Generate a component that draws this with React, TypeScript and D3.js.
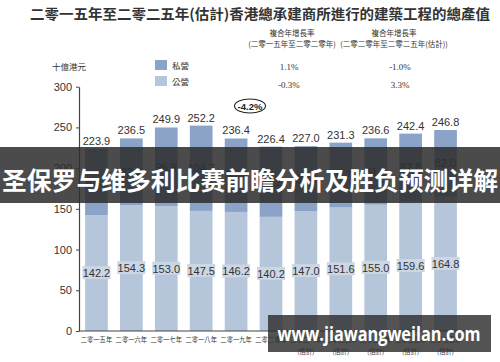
import React, { useEffect, useRef } from "react";
import * as d3 from "d3";

// ─── Data ─────────────────────────────────────────────────────────────────────
const YEARS = [
  "二零一五年", "二零一六年", "二零一七年", "二零一八年", "二零一九年", "二零二零年",
  "二零二一年", "二零二二年", "二零二三年", "二零二四年", "二零二五年",
];
const ESTIMATED = [false, false, false, false, false, false, true, true, true, true, true];
const TOTAL = [223.9, 236.5, 249.9, 252.2, 236.4, 226.4, 227.0, 231.3, 236.6, 242.4, 246.8];
const PUBLIC = [142.2, 154.3, 153.0, 147.5, 146.2, 140.2, 147.0, 151.6, 155.0, 159.6, 164.8];
const PRIVATE = [81.7, 82.2, 96.9, 104.7, 90.2, 86.2, 80.0, 79.7, 81.6, 82.8, 82.0];
const Y_TICKS = [0, 50, 100, 150, 200, 250, 300];
const CAGR_ROWS = [
  ["1.1%", "-1.0%"],
  ["-0.3%", "3.3%"],
];

// ─── Design tokens ────────────────────────────────────────────────────────────
const W = 500;
const H = 362;
const PLOT = { left: 79, right: 463, top: 86.7, bottom: 331 };
const PRIVATE_FILL = "#8aa3c6";
const PUBLIC_FILL = "#b5c5da";
const LABEL_BOX = "#cdd6e3";
const TEXT = "#333333";
const CJK = "'Noto Sans CJK TC', 'Noto Sans CJK SC', sans-serif";
const NUM = "'Liberation Sans', Arial, sans-serif";

export default function App() {
  const svgRef = useRef<SVGSVGElement>(null);

  useEffect(() => {
    const node = svgRef.current;
    if (!node) return;
    const svg = d3.select(node);
    svg.selectAll("*").remove();

    svg.append("rect").attr("width", W).attr("height", H).attr("fill", "#ffffff");

    // ── Scales ────────────────────────────────────────────────────────────
    const x = d3
      .scaleBand<number>()
      .domain(d3.range(YEARS.length))
      .range([PLOT.left, PLOT.right])
      .paddingInner(0.35)
      .paddingOuter(0.175);
    const y = d3.scaleLinear().domain([0, 300]).range([PLOT.bottom, PLOT.top]);

    // ── Title / header ───────────────────────────────────────────────────
    svg.append("text")
      .attr("x", 260).attr("y", 19)
      .attr("text-anchor", "middle")
      .attr("font-family", CJK).attr("font-weight", 700).attr("font-size", 14)
      .attr("fill", "#333")
      .attr("textLength", 460).attr("lengthAdjust", "spacingAndGlyphs")
      .text("二零一五年至二零二五年(估計)香港總承建商所進行的建築工程的總產值");

    const headers = [
      { cx: 292, lines: ["複合年增長率", "(二零一五年至二零二零年)"] },
      { cx: 394, lines: ["複合年增長率", "(二零二零年至二零二五年(估計))"] },
    ];
    headers.forEach((h) => {
      h.lines.forEach((l, i) => {
        svg.append("text")
          .attr("x", h.cx).attr("y", 36 + i * 11)
          .attr("text-anchor", "middle")
          .attr("font-family", CJK).attr("font-size", 7.5)
          .attr("fill", TEXT)
          .text(l);
      });
    });
    CAGR_ROWS.forEach((row, i) => {
      [289, 400].forEach((cx, j) => {
        svg.append("text")
          .attr("x", cx).attr("y", 70 + i * 17.5)
          .attr("text-anchor", "middle")
          .attr("font-family", "'Liberation Serif', serif").attr("font-size", 9)
          .attr("fill", TEXT)
          .text(row[j]);
      });
    });

    // ── Legend ───────────────────────────────────────────────────────────
    svg.append("text")
      .attr("x", 52).attr("y", 70)
      .attr("font-family", CJK).attr("font-size", 8.5).attr("fill", TEXT)
      .text("十億港元");
    [
      { label: "私營", fill: PRIVATE_FILL, y: 60 },
      { label: "公營", fill: PUBLIC_FILL, y: 76 },
    ].forEach((d) => {
      svg.append("rect")
        .attr("x", 155).attr("y", d.y).attr("width", 12).attr("height", 10)
        .attr("fill", d.fill);
      svg.append("text")
        .attr("x", 172).attr("y", d.y + 8.5)
        .attr("font-family", CJK).attr("font-size", 8.5).attr("fill", TEXT)
        .text(d.label);
    });

    // ── Y axis ───────────────────────────────────────────────────────────
    const yAxis = svg.append("g")
      .attr("transform", `translate(${PLOT.left},0)`)
      .call(d3.axisLeft(y).tickValues(Y_TICKS).tickSize(3).tickPadding(4).tickSizeOuter(0));
    yAxis.select(".domain").attr("stroke", "#444").attr("stroke-width", 1.2);
    yAxis.selectAll(".tick line").attr("stroke", "#444");
    yAxis.selectAll("text")
      .attr("fill", TEXT).attr("font-size", 11).attr("font-family", NUM);

    // ── Bars ─────────────────────────────────────────────────────────────
    const idx = d3.range(YEARS.length);
    const g = svg.append("g");
    g.selectAll("rect.pub")
      .data(idx)
      .join("rect")
      .attr("class", "pub")
      .attr("x", (i) => x(i)!)
      .attr("width", x.bandwidth())
      .attr("y", (i) => y(PUBLIC[i]))
      .attr("height", (i) => y(0) - y(PUBLIC[i]))
      .attr("fill", PUBLIC_FILL);
    g.selectAll("rect.priv")
      .data(idx)
      .join("rect")
      .attr("class", "priv")
      .attr("x", (i) => x(i)!)
      .attr("width", x.bandwidth())
      .attr("y", (i) => y(TOTAL[i]))
      .attr("height", (i) => y(PUBLIC[i]) - y(TOTAL[i]))
      .attr("fill", PRIVATE_FILL);

    const cx = (i: number) => x(i)! + x.bandwidth() / 2;

    // totals above bars
    g.selectAll("text.tot")
      .data(idx)
      .join("text")
      .attr("class", "tot")
      .attr("x", cx)
      .attr("y", (i) => y(TOTAL[i]) - 4)
      .attr("text-anchor", "middle")
      .attr("font-family", NUM).attr("font-size", 11).attr("fill", TEXT)
      .text((i) => TOTAL[i].toFixed(1));

    // private labels
    g.selectAll("text.pv")
      .data(idx)
      .join("text")
      .attr("class", "pv")
      .attr("x", cx)
      .attr("y", (i) => y(PUBLIC[i] + PRIVATE[i] / 2) + 4)
      .attr("text-anchor", "middle")
      .attr("font-family", NUM).attr("font-size", 11).attr("fill", TEXT)
      .text((i) => PRIVATE[i].toFixed(1));

    // public labels in boxes
    const pubY = (i: number) => y(PUBLIC[i] / 2);
    g.selectAll("rect.pbox")
      .data(idx)
      .join("rect")
      .attr("class", "pbox")
      .attr("x", (i) => cx(i) - 14)
      .attr("y", (i) => pubY(i) - 7)
      .attr("width", 28)
      .attr("height", 13)
      .attr("fill", LABEL_BOX);
    g.selectAll("text.pb")
      .data(idx)
      .join("text")
      .attr("class", "pb")
      .attr("x", cx)
      .attr("y", (i) => pubY(i) + 4)
      .attr("text-anchor", "middle")
      .attr("font-family", NUM).attr("font-size", 11).attr("fill", TEXT)
      .text((i) => PUBLIC[i].toFixed(1));

    // ── X axis ───────────────────────────────────────────────────────────
    svg.append("line")
      .attr("x1", PLOT.left).attr("x2", PLOT.right + 2)
      .attr("y1", y(0)).attr("y2", y(0))
      .attr("stroke", "#444").attr("stroke-width", 1.2);
    idx.forEach((i) => {
      svg.append("text")
        .attr("x", cx(i)).attr("y", y(0) + 10.5)
        .attr("text-anchor", "middle")
        .attr("font-family", CJK).attr("font-size", 6.3).attr("fill", TEXT)
        .text(YEARS[i]);
      if (ESTIMATED[i]) {
        svg.append("text")
          .attr("x", cx(i)).attr("y", y(0) + 23)
          .attr("text-anchor", "middle")
          .attr("font-family", CJK).attr("font-size", 6.3).attr("fill", TEXT)
          .text("(估計)");
      }
    });

    // ── -4.2% callout ────────────────────────────────────────────────────
    svg.append("ellipse")
      .attr("cx", 250).attr("cy", 106).attr("rx", 15.5).attr("ry", 7)
      .attr("fill", "#fff").attr("stroke", "#222").attr("stroke-width", 1.1);
    svg.append("text")
      .attr("x", 250).attr("y", 109.5)
      .attr("text-anchor", "middle")
      .attr("font-family", NUM).attr("font-weight", 700).attr("font-size", 9.5)
      .attr("fill", "#222")
      .text("-4.2%");

    // ── Overlay banner ───────────────────────────────────────────────────
    svg.append("rect")
      .attr("x", 0).attr("y", 147).attr("width", W).attr("height", 56)
      .attr("fill", "#2d2d2d").attr("fill-opacity", 0.86);
    svg.append("text")
      .attr("x", W / 2).attr("y", 190)
      .attr("text-anchor", "middle")
      .attr("font-family", "'Noto Sans CJK SC', sans-serif")
      .attr("font-weight", 700).attr("font-size", 24.6)
      .attr("fill", "#ffffff")
      .attr("textLength", 496).attr("lengthAdjust", "spacingAndGlyphs")
      .text("圣保罗与维多利比赛前瞻分析及胜负预测详解");

    // ── Watermark ────────────────────────────────────────────────────────
    svg.append("rect")
      .attr("x", 268).attr("y", 315).attr("width", 223).attr("height", 37)
      .attr("fill", "#2d2d2d").attr("fill-opacity", 0.82);
    svg.append("text")
      .attr("x", 379).attr("y", 340.5)
      .attr("text-anchor", "middle")
      .attr("font-family", "'Open Sans', 'Noto Sans', sans-serif")
      .attr("font-weight", 700).attr("font-size", 20)
      .attr("fill", "#ffffff")
      .attr("textLength", 203).attr("lengthAdjust", "spacingAndGlyphs")
      .text("www.jiawangweilan.com");
  }, []);

  return (
    <svg
      ref={svgRef}
      width={W}
      height={H}
      style={{ position: "absolute", left: 0, top: 0, display: "block" }}
    />
  );
}
